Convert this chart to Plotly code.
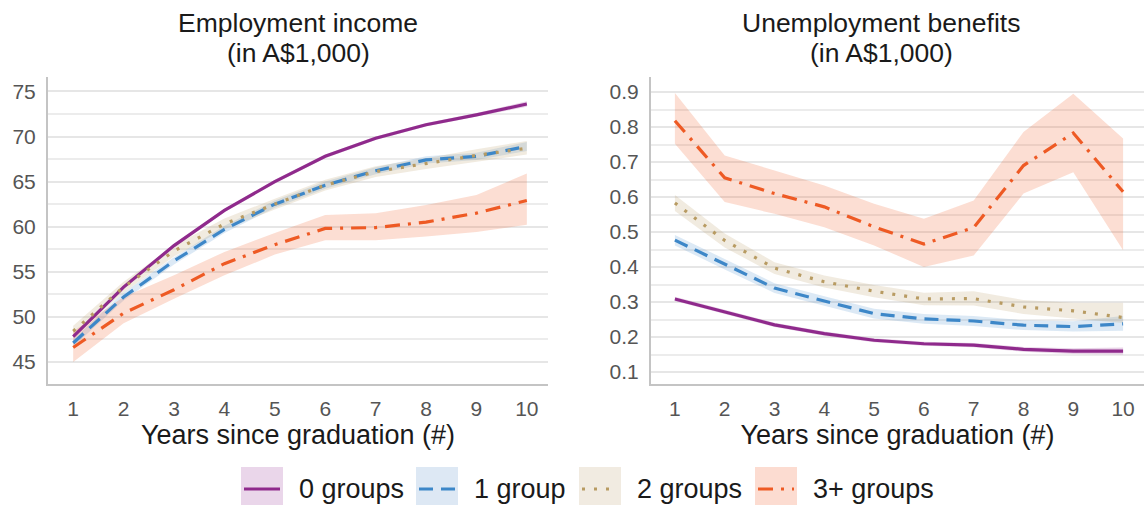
import plotly.graph_objects as go

# ---- data -------------------------------------------------------------
years = [1, 2, 3, 4, 5, 6, 7, 8, 9, 10]
groups = ["0 groups", "1 group", "2 groups", "3+ groups"]

# Employment income (A$1,000): estimate, lower and upper band
emp_0 = [47.8, 53.3, 57.9, 61.8, 65.0, 67.8, 69.8, 71.3, 72.4, 73.6]
emp_0_lo = [47.6, 53.1, 57.7, 61.6, 64.8, 67.6, 69.6, 71.1, 72.2, 73.3]
emp_0_hi = [48.0, 53.5, 58.1, 62.0, 65.2, 68.0, 70.0, 71.5, 72.6, 73.9]

emp_1 = [47.1, 52.2, 56.2, 59.7, 62.5, 64.6, 66.2, 67.4, 67.8, 68.9]
emp_1_lo = [46.7, 51.8, 55.8, 59.3, 62.1, 64.2, 65.8, 67.0, 67.4, 68.4]
emp_1_hi = [47.5, 52.7, 56.6, 60.1, 62.9, 65.0, 66.6, 67.8, 68.2, 69.4]

emp_2 = [48.4, 53.3, 57.3, 60.3, 62.5, 64.6, 66.1, 67.0, 67.9, 68.7]
emp_2_lo = [47.8, 52.7, 56.7, 59.7, 61.9, 64.0, 65.5, 66.4, 67.2, 68.0]
emp_2_hi = [49.0, 53.9, 57.9, 60.9, 63.1, 65.2, 66.7, 67.6, 68.6, 69.5]

emp_3 = [46.6, 50.4, 53.0, 55.9, 58.0, 59.8, 59.9, 60.5, 61.5, 62.9]
emp_3_lo = [45.0, 49.3, 52.0, 54.6, 56.9, 58.5, 58.5, 58.9, 59.4, 60.2]
emp_3_hi = [48.4, 52.2, 54.6, 57.2, 59.3, 61.3, 61.5, 62.4, 63.5, 65.9]

# Unemployment benefits (A$1,000): estimate, lower and upper band
ben_0 = [0.309, 0.272, 0.235, 0.210, 0.191, 0.181, 0.177, 0.165, 0.160, 0.160]
ben_0_lo = [0.303, 0.266, 0.229, 0.204, 0.185, 0.175, 0.171, 0.158, 0.152, 0.150]
ben_0_hi = [0.315, 0.278, 0.241, 0.216, 0.197, 0.187, 0.183, 0.172, 0.168, 0.170]

ben_1 = [0.477, 0.408, 0.340, 0.303, 0.267, 0.252, 0.246, 0.234, 0.230, 0.238]
ben_1_lo = [0.462, 0.393, 0.326, 0.289, 0.253, 0.238, 0.232, 0.220, 0.216, 0.218]
ben_1_hi = [0.492, 0.423, 0.354, 0.317, 0.281, 0.266, 0.260, 0.248, 0.245, 0.260]

ben_2 = [0.583, 0.476, 0.397, 0.358, 0.331, 0.309, 0.310, 0.286, 0.275, 0.256]
ben_2_lo = [0.560, 0.456, 0.380, 0.342, 0.314, 0.291, 0.290, 0.266, 0.252, 0.240]
ben_2_hi = [0.606, 0.496, 0.414, 0.376, 0.349, 0.327, 0.331, 0.306, 0.298, 0.298]

ben_3 = [0.818, 0.655, 0.610, 0.572, 0.515, 0.466, 0.513, 0.690, 0.783, 0.615]
ben_3_lo = [0.752, 0.586, 0.552, 0.514, 0.462, 0.400, 0.433, 0.610, 0.671, 0.448]
ben_3_hi = [0.897, 0.719, 0.676, 0.633, 0.581, 0.538, 0.590, 0.786, 0.895, 0.767]

# ---- styling ----------------------------------------------------------
line_colors = ["#8f2a8c", "#3d87c8", "#b89b62", "#ee5a24"]
band_colors = ["rgba(143,42,140,0.20)", "rgba(61,135,200,0.18)",
               "rgba(184,155,98,0.20)", "rgba(238,90,36,0.20)"]
legend_fill = ["#ead6ea", "#dde8f4", "#f1ebe1", "#fcdcd1"]
dashes = ["solid", "14px,8px", "3px,9px", "15px,8px,3px,8px"]

FONT = "Liberation Sans, Arial, sans-serif"
W, H = 1144, 506
ML, MR, MT, MB = 48, 0, 77, 122
PW, PH = W - ML - MR, H - MT - MB


def px_x(px):
    return (px - ML) / PW


def px_y(py):
    return (H - MB - py) / PH


fig = go.Figure()

panels = [
    ("x", "y", [emp_0, emp_1, emp_2, emp_3],
     [emp_0_lo, emp_1_lo, emp_2_lo, emp_3_lo],
     [emp_0_hi, emp_1_hi, emp_2_hi, emp_3_hi]),
    ("x2", "y2", [ben_0, ben_1, ben_2, ben_3],
     [ben_0_lo, ben_1_lo, ben_2_lo, ben_3_lo],
     [ben_0_hi, ben_1_hi, ben_2_hi, ben_3_hi]),
]

for xa, ya, est, lo, hi in panels:
    # confidence bands
    for i in range(4):
        fig.add_trace(go.Scatter(
            x=years + years[::-1], y=hi[i] + lo[i][::-1],
            xaxis=xa, yaxis=ya, fill="toself", fillcolor=band_colors[i],
            line=dict(width=0), mode="lines", hoverinfo="skip",
            showlegend=False))
    # point estimates
    for i in range(4):
        fig.add_trace(go.Scatter(
            x=years, y=est[i], xaxis=xa, yaxis=ya, mode="lines",
            name=groups[i], showlegend=False,
            line=dict(color=line_colors[i], width=3.2, dash=dashes[i])))

axis_common = dict(
    showline=True, linecolor="#c4c4c4", linewidth=2, ticks="",
    zeroline=False, tickfont=dict(family=FONT, size=21, color="#555555"),
)

x_title = dict(text="Years since graduation (#)",
               font=dict(family=FONT, size=27, color="#1a1a1a"), standoff=6)

fig.update_layout(
    width=W, height=H,
    margin=dict(l=ML, r=MR, t=MT, b=MB),
    plot_bgcolor="white", paper_bgcolor="white",
    showlegend=False,
    xaxis=dict(domain=[0, px_x(548)], range=[0.5, 10.42], tickvals=years,
               showgrid=False, title=x_title, ticklabelstandoff=5,
               **axis_common),
    xaxis2=dict(domain=[px_x(651), 1], range=[0.52, 10.42], tickvals=years,
                showgrid=False, title=x_title, ticklabelstandoff=5,
                anchor="y2", **axis_common),
    yaxis=dict(range=[42.55, 76.6], tick0=45, dtick=5, showgrid=True,
               gridcolor="#e6e6e6", gridwidth=2, ticklabelstandoff=6,
               minor=dict(dtick=2.5, tick0=45, showgrid=True,
                          gridcolor="#ececec", gridwidth=1.5),
               **axis_common),
    yaxis2=dict(range=[0.066, 0.943], tick0=0.1, dtick=0.1, showgrid=True,
                gridcolor="#e6e6e6", gridwidth=2, ticklabelstandoff=6,
                minor=dict(dtick=0.05, tick0=0.1, showgrid=True,
                           gridcolor="#ececec", gridwidth=1.5),
                anchor="x2", **axis_common),
)

# panel titles
titles = [("Employment income", "(in A$1,000)", 298),
          ("Unemployment benefits", "(in A$1,000)", 881)]
for line1, line2, cx in titles:
    for txt, cy in ((line1, 23), (line2, 53)):
        fig.add_annotation(
            text=txt, xref="paper", yref="paper", x=px_x(cx), y=px_y(cy),
            xanchor="center", yanchor="middle", showarrow=False,
            font=dict(family=FONT, size=26.5, color="#1a1a1a"))

# legend: swatch with band colour and line sample, then label
legend_boxes = [241, 416, 579, 755]
for i, bx in enumerate(legend_boxes):
    fig.add_shape(type="rect", xref="paper", yref="paper",
                  x0=px_x(bx), x1=px_x(bx + 42), y0=px_y(467), y1=px_y(505),
                  fillcolor=legend_fill[i], line=dict(width=0), layer="above")
    fig.add_shape(type="line", xref="paper", yref="paper",
                  x0=px_x(bx + 3), x1=px_x(bx + 39), y0=px_y(489), y1=px_y(489),
                  line=dict(color=line_colors[i], width=3.2, dash=dashes[i]),
                  layer="above")
    fig.add_annotation(
        text=groups[i], xref="paper", yref="paper", x=px_x(bx + 56),
        y=px_y(489), xanchor="left", yanchor="middle", showarrow=False,
        font=dict(family=FONT, size=27, color="#1a1a1a"))

fig.write_html("out.html")
